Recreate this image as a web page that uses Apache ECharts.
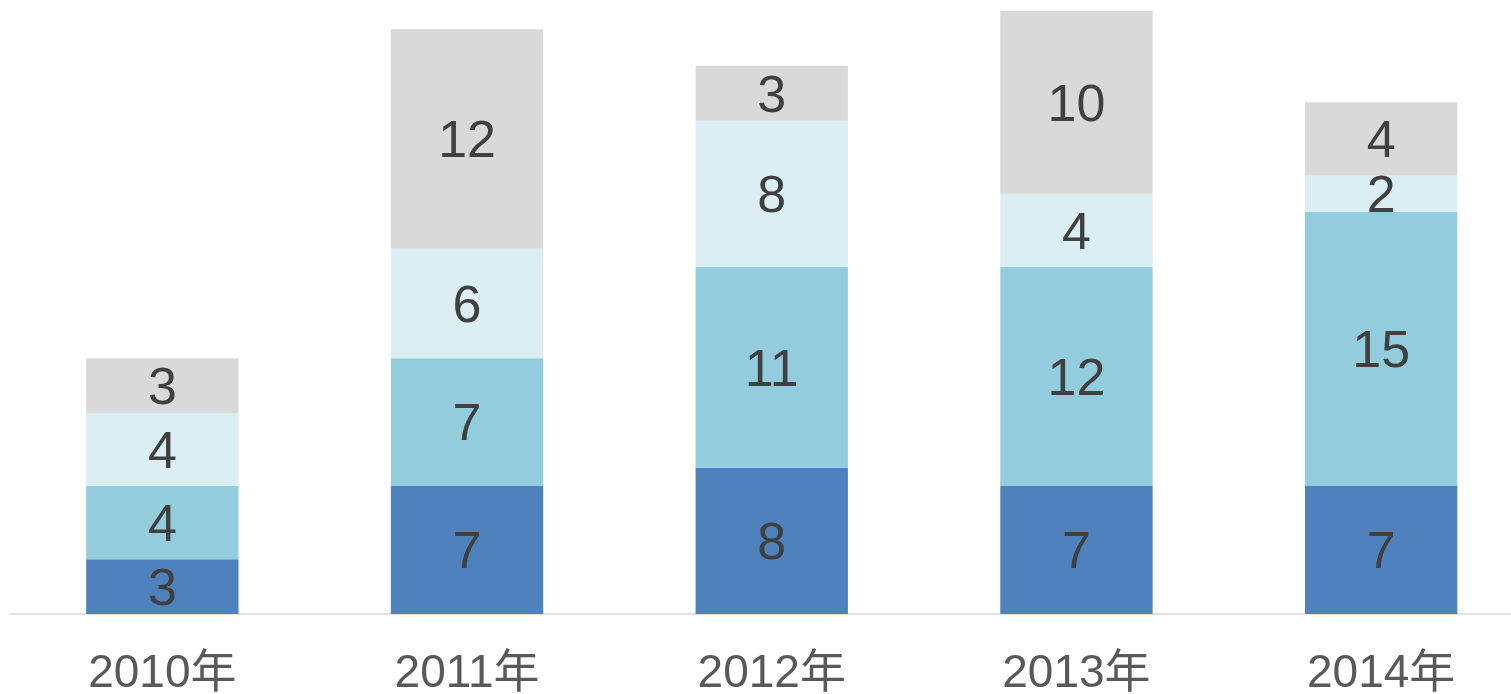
<!DOCTYPE html>
<html>
<head>
<meta charset="utf-8">
<script src="https://cdn.jsdelivr.net/npm/echarts@6/dist/echarts.min.js"></script>
<style>
  html, body { margin: 0; padding: 0; background: #fff; }
  #chart { width: 1511px; height: 694px; }
</style>
</head>
<body>
<div id="chart"></div>
<script>
const categories = ['2010年', '2011年', '2012年', '2013年', '2014年']
const series1 = [3, 7, 8, 7, 7]
const series2 = [4, 7, 11, 12, 15]
const series3 = [4, 6, 8, 4, 2]
const series4 = [3, 12, 3, 10, 4]
const colors = ['#4F81BD', '#93CDDD', '#DBEEF4', '#D9D9D9']

const font = "'Liberation Sans', Arial, 'Noto Sans CJK SC', sans-serif"

const chart = echarts.init(document.getElementById('chart'))

const makeSeries = (data, i) => ({
  type: 'bar',
  stack: 'total',
  data,
  barWidth: '50%',
  itemStyle: { color: colors[i] },
  label: {
    show: true,
    position: 'inside',
    offset: [0, 4],
    color: '#404040',
    fontSize: 52,
    fontFamily: font,
  },
})

chart.setOption({
  animation: false,
  grid: {
    left: 10,
    top: 11,
    bottom: 80,
    right: -22.5,
    containLabel: false,
    outerBoundsMode: 'none',
  },
  xAxis: {
    type: 'category',
    data: categories,
    axisLine: { lineStyle: { color: '#D9D9D9', width: 1.5 } },
    axisTick: { show: false },
    axisLabel: {
      color: '#595959',
      fontSize: 46,
      fontFamily: font,
      margin: 37,
    },
  },
  yAxis: {
    type: 'value',
    min: 0,
    max: 33,
    show: false,
    splitLine: { show: false },
  },
  series: [series1, series2, series3, series4].map(makeSeries),
})
</script>
</body>
</html>
